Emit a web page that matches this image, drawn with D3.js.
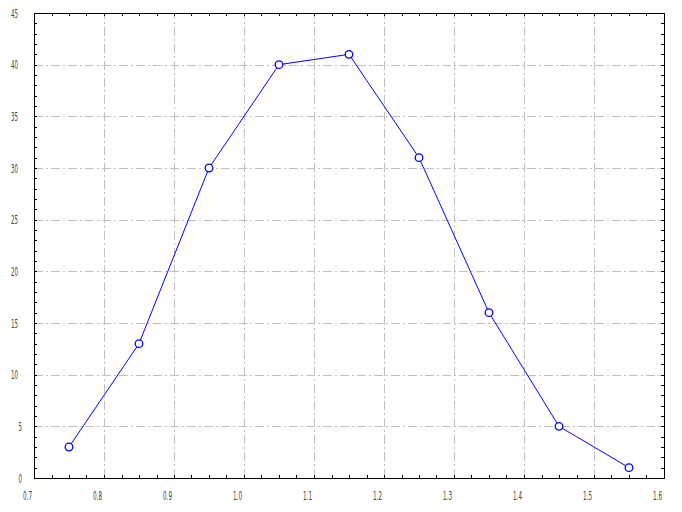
<!DOCTYPE html>
<html>
<head>
<meta charset="utf-8">
<script src="https://cdn.jsdelivr.net/npm/d3@7"></script>
<style>
html,body{margin:0;padding:0;background:#fff;}
svg{display:block;}
</style>
</head>
<body>
<script>
const xValues = [0.75, 0.85, 0.95, 1.05, 1.15, 1.25, 1.35, 1.45, 1.55];
const yValues = [3, 13, 30, 40, 41, 31, 16, 5, 1];
const xTicks = [0.7, 0.8, 0.9, 1.0, 1.1, 1.2, 1.3, 1.4, 1.5, 1.6];
const yTicks = [0, 5, 10, 15, 20, 25, 30, 35, 40, 45];

const W = 682, H = 512;
const m = {left: 34, right: 18, top: 13, bottom: 34};
const svg = d3.select("body").append("svg").attr("width", W).attr("height", H);

const x = d3.scaleLinear().domain([0.7, 1.6]).range([m.left, W - m.right]);
const y = d3.scaleLinear().domain([0, 45]).range([H - m.bottom, m.top]);
const x0 = m.left, x1 = W - m.right, y0 = H - m.bottom, y1 = m.top;

const crisp = v => Math.round(v) + 0.5;
const grid = svg.append("g").attr("stroke", "#c0c0c0").attr("stroke-width", 1)
  .attr("stroke-dasharray", "9,3,2,3").attr("fill", "none");
xTicks.slice(1, -1).forEach(t => {
  grid.append("line").attr("x1", crisp(x(t))).attr("x2", crisp(x(t))).attr("y1", y0).attr("y2", y1);
});
yTicks.slice(1, -1).forEach(t => {
  grid.append("line").attr("y1", crisp(y(t))).attr("y2", crisp(y(t))).attr("x1", x0).attr("x2", x1);
});

// minor/major tick marks inside on all four sides
const ticksG = svg.append("g").attr("stroke", "#000").attr("stroke-width", 1);
const xMinor = d3.range(0.7, 1.6001, 0.025);
xMinor.forEach(t => {
  const px = crisp(x(t));
  ticksG.append("line").attr("x1", px).attr("x2", px).attr("y1", y0).attr("y2", y0 - 3);
  ticksG.append("line").attr("x1", px).attr("x2", px).attr("y1", y1).attr("y2", y1 + 3);
});
const yMinor = d3.range(0, 45.001, 1);
yMinor.forEach(t => {
  const py = crisp(y(t));
  ticksG.append("line").attr("y1", py).attr("y2", py).attr("x1", x0).attr("x2", x0 + 3);
  ticksG.append("line").attr("y1", py).attr("y2", py).attr("x1", x1).attr("x2", x1 - 3);
});

// frame
svg.append("rect").attr("x", crisp(x0)).attr("y", crisp(y1))
  .attr("width", Math.round(x1 - x0)).attr("height", Math.round(y0 - y1))
  .attr("fill", "none").attr("stroke", "#000").attr("stroke-width", 1);

// labels
const lab = svg.append("g").attr("font-family", "'Liberation Sans Narrow','DejaVu Sans Condensed',sans-serif")
  .attr("font-size", 12).attr("fill", "#404040");
xTicks.forEach(t => {
  lab.append("text").attr("x", x(t) - 2).attr("y", 500).attr("text-anchor", "end")
    .attr("textLength", 9).attr("lengthAdjust", "spacingAndGlyphs")
    .text(d3.format(".1f")(t));
});
yTicks.forEach(t => {
  const s = String(t);
  lab.append("text").attr("x", s.length > 1 ? 18 : 22).attr("y", y(t) + 4.5).attr("text-anchor", "end")
    .attr("textLength", s.length > 1 ? 7 : 3.5).attr("lengthAdjust", "spacingAndGlyphs")
    .text(s);
});

// series
const pts = xValues.map((v, i) => [v, yValues[i]]);
svg.append("path").datum(pts)
  .attr("d", d3.line().x(d => x(d[0])).y(d => y(d[1])))
  .attr("fill", "none").attr("stroke", "#0000ff").attr("stroke-width", 1);
svg.append("g").selectAll("circle").data(pts).join("circle")
  .attr("cx", d => x(d[0])).attr("cy", d => y(d[1])).attr("r", 3.8)
  .attr("fill", "#fff").attr("stroke", "#0000ff").attr("stroke-width", 1.3);
</script>
</body>
</html>
